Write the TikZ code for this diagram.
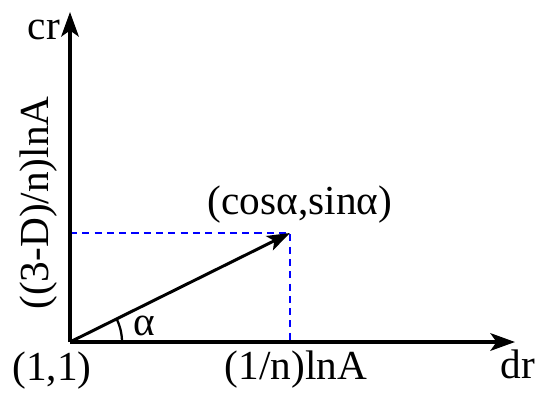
\documentclass[tikz,border=0pt]{standalone}
\usepackage{fontspec}
\setmainfont{Liberation Serif}
\usetikzlibrary{arrows.meta, positioning}
\definecolor{DashBlue}{RGB}{0,0,255}

\begin{document}
\begin{tikzpicture}[x=0.02cm, y=0.02cm, font=\fontsize{23.5}{27}\selectfont,
		axis/.style={line width=1.9pt, -{Stealth[length=14pt, width=10pt, inset=3.5pt]}},
		proj/.style={DashBlue, dash pattern=on 4pt off 3pt, line width=1pt}]
			\useasboundingbox (0,0) rectangle (550,399);
			\coordinate (O) at (70,57);
			\coordinate (X) at (515,57);
			\coordinate (Y) at (70,387);
			\coordinate (P) at (290,166);
			\coordinate (Px) at (290,57);
			\coordinate (Py) at (70,166);
			\draw[proj] (Py) -- (P) -- (Px);
			\draw[axis] (O) -- (X);
			\draw[axis] (O) -- (Y);
			\draw[line width=1.7pt, -{Stealth[length=13pt, width=9pt, inset=3pt]}] (O) -- (P);
			\draw[line width=1.3pt] ([shift={(0:52)}]O) arc (0:26.3:52);
			\node (cr) at (44,369) {cr};
			\node (dr) at (518,35) {dr};
			\node (orig) at (52,28) {(1,1)};
			\node (xval) at (296,29) {(1/n)lnA};
			\node (yval) at (39,196) [rotate=90] {((3-D)/n)lnA};
			\node (pt) at (300,194) {(cosα,sinα)};
			\node (ang) at (144,73) {α};
		\end{tikzpicture}
\end{document}
